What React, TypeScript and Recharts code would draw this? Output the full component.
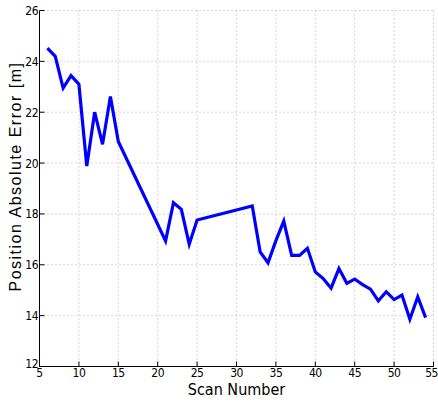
import { LineChart, Line, XAxis, YAxis, CartesianGrid } from 'recharts'

if (typeof document !== 'undefined') document.body.style.margin = '0'

const scans = [6, 7, 8, 9, 10, 11, 12, 13, 14, 15, 21, 22, 23, 24, 25, 32, 33, 34, 35, 36, 37, 38, 39, 40, 41, 42, 43, 44, 45, 46, 47, 48, 49, 50, 51, 52, 53, 54]
const errors = [24.52, 24.2, 22.95, 23.44, 23.1, 19.88, 22.0, 20.74, 22.62, 20.85, 16.94, 18.44, 18.18, 16.81, 17.76, 18.31, 16.51, 16.08, 16.95, 17.72, 16.37, 16.37, 16.65, 15.72, 15.46, 15.08, 15.85, 15.27, 15.44, 15.22, 15.04, 14.58, 14.94, 14.63, 14.81, 13.86, 14.74, 13.92]
const xTicks = [5, 10, 15, 20, 25, 30, 35, 40, 45, 50, 55]
const yTicks = [12, 14, 16, 18, 20, 22, 24, 26]

const data = scans.map((x, i) => ({ x, err: errors[i] }))

const tickFont = "'Liberation Sans Narrow', 'DejaVu Sans Condensed', 'Arial Narrow', sans-serif"

const BottomTick = ({ x, y, payload }: any) => (
  <g>
    <line x1={x} x2={x} y1={y} y2={y - 5} stroke="#000" />
    <text
      x={payload.value === 55 ? x - 2 : x}
      y={y}
      dy={10.5}
      textAnchor="middle"
      fontSize={12}
      letterSpacing={-0.5}
      fontFamily={tickFont}
      fill="#000"
    >
      {payload.value}
    </text>
  </g>
)

const LeftTick = ({ x, y, payload }: any) => (
  <g>
    <line x1={x} x2={x + 5} y1={y} y2={y} stroke="#000" />
    <text
      x={x - 1.5}
      y={y}
      dy={payload.value === 12 ? 1.5 : 4.5}
      textAnchor="end"
      fontSize={12}
      letterSpacing={-0.5}
      fontFamily={tickFont}
      fill="#000"
    >
      {payload.value}
    </text>
  </g>
)

const TopTick = ({ x, y }: any) => <line x1={x} x2={x} y1={y} y2={y + 5} stroke="#000" />
const RightTick = ({ x, y }: any) => <line x1={x} x2={x - 5} y1={y} y2={y} stroke="#000" />

export default function App() {
  return (
    <LineChart width={438} height={406} data={data} margin={{ top: 10.5, right: 4.5, bottom: 0, left: 0.5 }}>
      <CartesianGrid stroke="#b0b0b0" strokeDasharray="1 3" />
      <XAxis
        dataKey="x"
        type="number"
        domain={[5, 55]}
        ticks={xTicks}
        interval={0}
        height={39.5}
        tickSize={0}
        tickMargin={0}
        tickLine={false}
        axisLine={{ stroke: '#000' }}
        tick={<BottomTick />}
        label={{
          value: 'Scan Number',
          position: 'insideBottom',
          offset: 11,
          fill: '#000',
          fontSize: 16,
          fontFamily: tickFont,
        }}
      />
      <XAxis
        xAxisId="top"
        orientation="top"
        dataKey="x"
        type="number"
        domain={[5, 55]}
        ticks={xTicks}
        interval={0}
        height={0}
        tickSize={0}
        tickMargin={0}
        tickLine={false}
        axisLine={{ stroke: '#000' }}
        tick={<TopTick />}
      />
      <YAxis
        type="number"
        domain={[12, 26]}
        ticks={yTicks}
        interval={0}
        width={39}
        tickSize={0}
        tickMargin={0}
        tickLine={false}
        axisLine={{ stroke: '#000' }}
        tick={<LeftTick />}
        label={{
          value: 'Position Absolute Error [m]',
          angle: -90,
          position: 'insideLeft',
          offset: 15,
          dy: 103,
          fill: '#000',
          fontSize: 16,
          letterSpacing: 1.5,
          fontFamily: 'Arial, Helvetica, sans-serif',
        }}
      />
      <YAxis
        yAxisId="right"
        orientation="right"
        type="number"
        domain={[12, 26]}
        ticks={yTicks}
        interval={0}
        width={0}
        tickSize={0}
        tickMargin={0}
        tickLine={false}
        axisLine={{ stroke: '#000' }}
        tick={<RightTick />}
      />
      <Line
        dataKey="err"
        type="linear"
        stroke="#0000ff"
        strokeWidth={3.2}
        dot={false}
        isAnimationActive={false}
      />
    </LineChart>
  )
}
